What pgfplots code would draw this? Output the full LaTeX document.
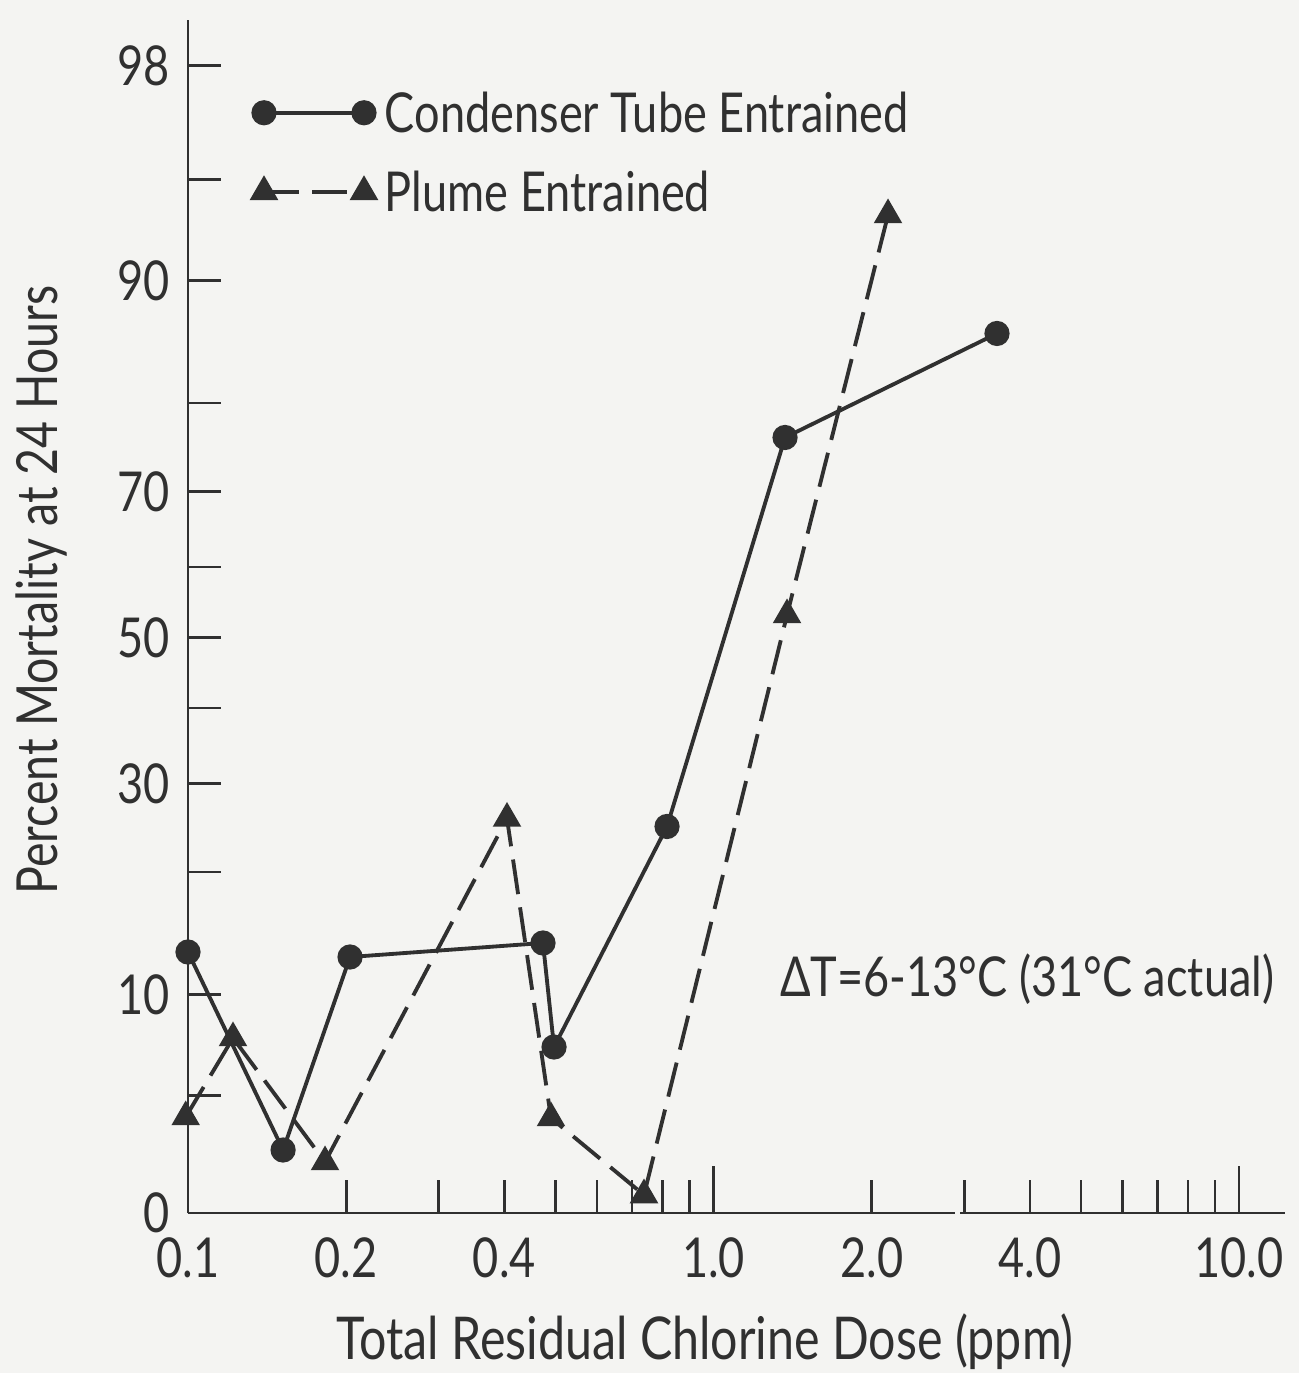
\documentclass[border=0pt]{standalone}
\usepackage{fontspec}
\setmainfont{Lato}[FakeStretch=0.82]
\usepackage{pgfplots}
\pgfplotsset{compat=1.18}
\definecolor{ink}{RGB}{48,48,48}
\definecolor{paper}{RGB}{244,244,242}
% y values are given in probit units (normal deviates) of the percent mortality,
% because the printed y axis is a probability scale.
\begin{document}
\begin{tikzpicture}
\fill[paper] (-56.4pt,-48pt) rectangle (333.3pt,363.9pt);
\begin{axis}[
  at={(0pt,0pt)}, anchor=south west,
  scale only axis, width=329.1pt, height=357.9pt,
  xmode=log, xmin=0.1, xmax=12.23,
  ymin=-2.0657, ymax=2.2164,
  clip=false,
  axis x line=bottom, axis y line=left,
  axis line style={-, ink, line width=0.8pt},
  tick align=inside, major tick length=10pt, minor tick length=10pt,
  tick style={ink, line width=0.8pt},
  font=\fontsize{16.5}{18}\selectfont,
  text=ink,
  xtick={0.1,0.2,0.3,0.4,0.5,0.6,0.7,0.8,0.9,2,3,4,5,6,7,8,9},
  xticklabels={0.1,0.2,,0.4,,,,,,2.0,,4.0,,,,,},
  extra x ticks={1,10},
  extra x tick labels={1.0,10.0},
  extra x tick style={major tick length=14pt},
  xticklabel style={yshift=-4pt},
  minor xtick={},
  ytick={-2.0657,-1.2816,-0.5244,0,0.5244,1.2816,2.0537},
  yticklabels={0,10,30,50,70,90,98},
  minor ytick={-1.6449,-0.8416,-0.2533,0.2533,0.8416,1.6449},
  yticklabel style={xshift=-2pt},
  xlabel={Total Residual Chlorine Dose (ppm)},
  ylabel={Percent Mortality at 24 Hours},
  every axis x label/.style={at={(axis description cs:0.4713,0)},anchor=center,inner sep=0pt,yshift=-38.6pt,font=\fontsize{17.7}{19}\selectfont},
  every axis y label/.style={at={(axis description cs:-0.1331,0.522)},rotate=90,anchor=center,inner sep=0pt,font=\fontsize{17}{19}\selectfont},
  legend style={at={(axis description cs:0.0593,0.939)}, anchor=north west,
    draw=none, fill=none, inner sep=0pt, outer sep=0pt, row sep=11.7pt,
    nodes={inner sep=0pt, text height=12pt, text depth=0pt}},
  legend cell align=left,
  legend image code/.code={\draw[#1] plot coordinates {(0pt,0pt) (30pt,0pt)};},
]
\addplot[ink, line width=1.15pt, mark=*, mark size=3.2pt, mark options={solid, fill=ink}]
  coordinates {(0.100,-1.1289) (0.1517,-1.8396) (0.2034,-1.1468) (0.4737,-1.0966)
               (0.4972,-1.4699) (0.8157,-0.6784) (1.368,0.7179) (3.463,1.0912)};
\addlegendentry{\hspace{3pt}Condenser Tube Entrained}
\addplot[ink, line width=1.15pt, dash pattern=on 10.5pt off 4pt, mark=triangle*, mark size=3.8pt, mark options={solid, fill=ink}]
  coordinates {(0.099,-1.7211) (0.1218,-1.4375) (0.1823,-1.8826) (0.4046,-0.6497)
               (0.4906,-1.7247) (0.7375,-2.0011) (1.380,0.0808) (2.148,1.5165)};
\addlegendentry{\hspace{3pt}Plume Entrained}
\node[anchor=center, text=ink] at (axis description cs:0.765,0.196) {ΔT=6-13°C (31°C actual)};
% small break in the x axis line, as printed
\draw[paper, line width=2pt] (axis cs:2.88,-2.0657) -- (axis cs:2.94,-2.0657);
\end{axis}
\end{tikzpicture}
\end{document}
